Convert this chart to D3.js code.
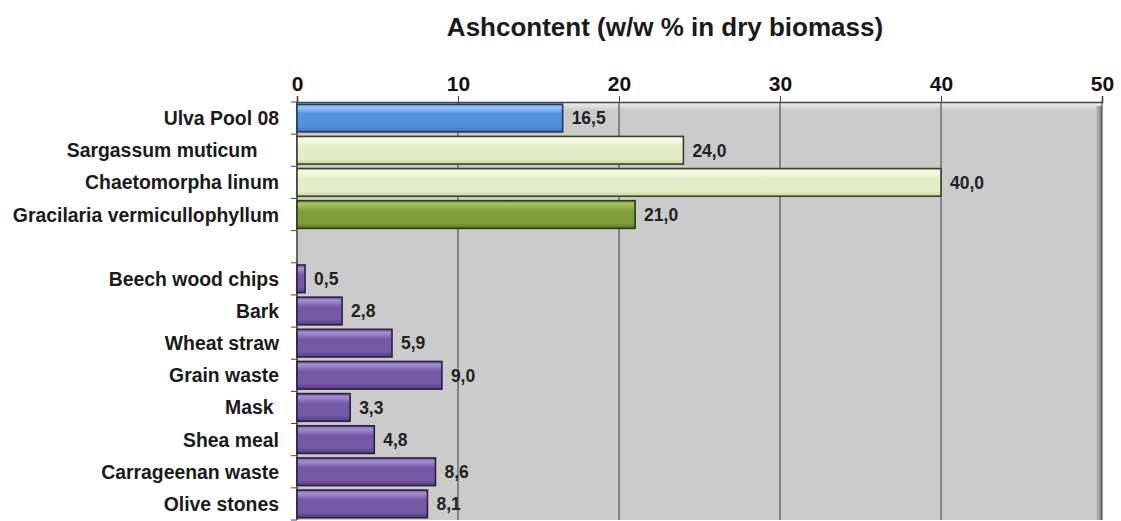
<!DOCTYPE html>
<html>
<head>
<meta charset="utf-8">
<script src="https://cdn.jsdelivr.net/npm/d3@7"></script>
<style>
  body { margin: 0; background: #fff; }
  svg { font-family: Arial, "Liberation Sans", sans-serif; }
</style>
</head>
<body>
<div id="chart"></div>
<script>
// categories top to bottom, "" is the empty row between the two groups
const categories = [
  "Ulva Pool 08", "Sargassum muticum    ", "Chaetomorpha linum", "Gracilaria vermicullophyllum",
  "",
  "Beech wood chips", "Bark", "Wheat straw", "Grain waste", "Mask ", "Shea meal", "Carrageenan waste", "Olive stones"
];
const ashValues = [16.5, 24.0, 40.0, 21.0, null, 0.5, 2.8, 5.9, 9.0, 3.3, 4.8, 8.6, 8.1];
const colorGroups = ["blue", "light", "light", "green", null, "purple", "purple", "purple", "purple", "purple", "purple", "purple", "purple"];
const xTicks = [0, 10, 20, 30, 40, 50];
const title = "Ashcontent (w/w % in dry biomass)";

const width = 1121, height = 521;
const margin = { top: 102, right: 19, bottom: 1, left: 297 };

const palette = {
  blue:   { top: "#9cc6f4", mid: "#5592de", bot: "#3a70bb", stroke: "#1d3a63" },
  light:  { top: "#f7fae9", mid: "#e4eec6", bot: "#c6d698", stroke: "#3b4130" },
  green:  { top: "#a9c46a", mid: "#809e3e", bot: "#5c7826", stroke: "#2c3915" },
  purple: { top: "#a590d0", mid: "#7459a6", bot: "#503b80", stroke: "#2a1f42" }
};

const svg = d3.select("#chart").append("svg")
  .attr("width", width)
  .attr("height", height);

const defs = svg.append("defs");
Object.entries(palette).forEach(([key, c]) => {
  const g = defs.append("linearGradient")
    .attr("id", "grad-" + key)
    .attr("x1", 0).attr("y1", 0).attr("x2", 0).attr("y2", 1);
  g.append("stop").attr("offset", "0%").attr("stop-color", c.mid);
  g.append("stop").attr("offset", "12%").attr("stop-color", c.top);
  g.append("stop").attr("offset", "35%").attr("stop-color", c.mid);
  g.append("stop").attr("offset", "80%").attr("stop-color", c.mid);
  g.append("stop").attr("offset", "100%").attr("stop-color", c.bot);
});

// plot wall shading
const topShade = defs.append("linearGradient").attr("id", "wall-top")
  .attr("x1", 0).attr("y1", 0).attr("x2", 0).attr("y2", 1);
topShade.append("stop").attr("offset", "0%").attr("stop-color", "#f4f4f4");
topShade.append("stop").attr("offset", "100%").attr("stop-color", "#cbcbcb");
const rightShade = defs.append("linearGradient").attr("id", "wall-right")
  .attr("x1", 0).attr("y1", 0).attr("x2", 1).attr("y2", 0);
rightShade.append("stop").attr("offset", "0%").attr("stop-color", "#c4c4c4");
rightShade.append("stop").attr("offset", "100%").attr("stop-color", "#7a7a7a");

const x = d3.scaleLinear()
  .domain([0, 50])
  .range([margin.left, width - margin.right]);

const y = d3.scaleBand()
  .domain(categories)
  .range([margin.top, height - margin.bottom])
  .paddingInner(0.14)
  .paddingOuter(0.07);

const plotTop = margin.top, plotBottom = height - margin.bottom;

// grey plot area
svg.append("rect")
  .attr("x", x(0)).attr("y", plotTop)
  .attr("width", x(50) - x(0)).attr("height", plotBottom - plotTop)
  .attr("fill", "#cbcbcb");
svg.append("rect")
  .attr("x", x(0)).attr("y", plotTop)
  .attr("width", x(50) - x(0)).attr("height", 8)
  .attr("fill", "url(#wall-top)");
svg.append("rect")
  .attr("x", x(50) - 6).attr("y", plotTop + 4)
  .attr("width", 6).attr("height", plotBottom - plotTop - 4)
  .attr("fill", "url(#wall-right)");

// vertical grid lines
svg.append("g")
  .selectAll("line")
  .data(xTicks.slice(1))
  .join("line")
  .attr("x1", d => x(d)).attr("x2", d => x(d))
  .attr("y1", plotTop).attr("y2", plotBottom)
  .attr("stroke", "#3c3c3c")
  .attr("stroke-width", 1);

// top axis
const xAxis = svg.append("g")
  .attr("transform", `translate(0,${plotTop})`)
  .call(d3.axisTop(x).tickValues(xTicks).tickSize(6).tickPadding(5).tickFormat(d3.format("d")));
xAxis.select(".domain").attr("stroke", "#444").attr("stroke-width", 1.6);
xAxis.selectAll(".tick line").attr("stroke", "#444");
xAxis.selectAll("text")
  .attr("font-size", 21).attr("font-weight", "bold").attr("fill", "#111");

// left axis, ticks sit on band boundaries
const step = y.step();
const boundaries = d3.range(categories.length + 1).map(i => plotTop + i * step);
svg.append("line")
  .attr("x1", x(0)).attr("x2", x(0))
  .attr("y1", plotTop).attr("y2", plotBottom)
  .attr("stroke", "#444").attr("stroke-width", 1.6);
svg.append("g")
  .selectAll("line")
  .data(boundaries)
  .join("line")
  .attr("x1", x(0) - 6).attr("x2", x(0))
  .attr("y1", d => d).attr("y2", d => d)
  .attr("stroke", "#444");

svg.append("g")
  .selectAll("text")
  .data(categories)
  .join("text")
  .attr("x", 279)
  .attr("y", d => y(d) + y.bandwidth() / 2)
  .attr("dy", "0.36em")
  .attr("text-anchor", "end")
  .attr("xml:space", "preserve")
  .style("white-space", "pre")
  .attr("font-size", 19.4).attr("font-weight", "bold").attr("fill", "#1a1a1a")
  .text(d => d);

// bars
const rows = categories.map((c, i) => ({ name: c, value: ashValues[i], group: colorGroups[i] }))
  .filter(d => d.value !== null);

svg.append("g")
  .selectAll("rect")
  .data(rows)
  .join("rect")
  .attr("x", x(0))
  .attr("y", d => y(d.name))
  .attr("width", d => x(d.value) - x(0))
  .attr("height", y.bandwidth())
  .attr("fill", d => `url(#grad-${d.group})`)
  .attr("stroke", d => palette[d.group].stroke)
  .attr("stroke-width", 1.6);

// value labels
svg.append("g")
  .selectAll("text")
  .data(rows)
  .join("text")
  .attr("x", d => x(d.value) + 9)
  .attr("y", d => y(d.name) + y.bandwidth() / 2)
  .attr("dy", "0.36em")
  .attr("font-size", 17.5).attr("font-weight", "bold").attr("fill", "#222")
  .text(d => d3.format(".1f")(d.value).replace(".", ","));

svg.append("text")
  .attr("x", 665)
  .attr("y", 36)
  .attr("text-anchor", "middle")
  .attr("font-size", 26).attr("font-weight", "bold").attr("fill", "#1a1a1a")
  .text(title);
</script>
</body>
</html>
